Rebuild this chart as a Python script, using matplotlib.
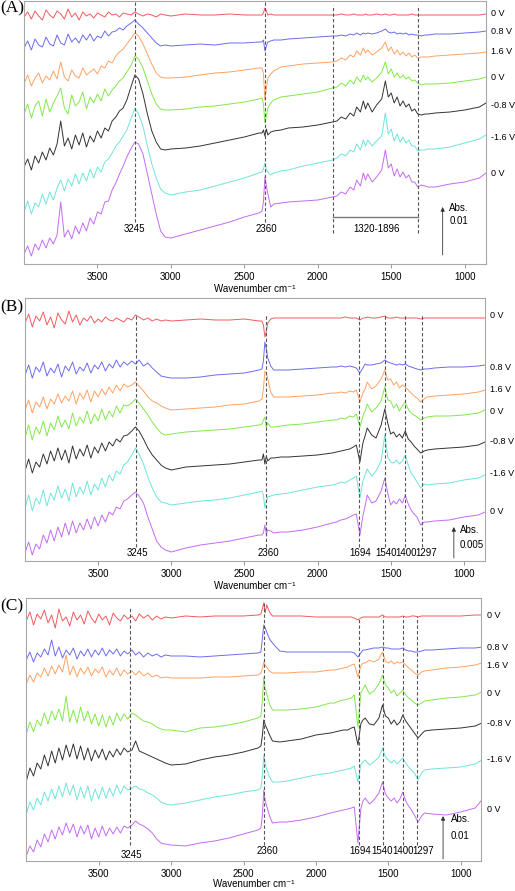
import matplotlib.pyplot as plt

plt.rcParams['font.family'] = ['Liberation Sans', 'DejaVu Sans']

# wavenumber grid (cm-1) shared by every spectrum
wn = [4000, 3975, 3950, 3925, 3900, 3875, 3850, 3825, 3800, 3775, 3750, 3725, 3700, 3675, 3650,
      3625, 3600, 3575, 3550, 3525, 3500, 3475, 3450, 3425, 3400, 3375, 3350, 3325, 3300,
      3270, 3245, 3220, 3190, 3160, 3130, 3100, 3070, 3040,
      3000, 2900, 2800, 2700, 2600, 2500, 2400,
      2380, 2370, 2360, 2350, 2340, 2320, 2300,
      2250, 2200, 2100, 2000, 1900,
      1870, 1840, 1810, 1780, 1755, 1735, 1710, 1690, 1675, 1660, 1630, 1600, 1565, 1540,
      1520, 1500, 1480, 1460, 1440, 1420, 1400, 1380, 1360, 1340, 1320, 1295, 1270,
      1250, 1200, 1100, 1000, 900, 855]

voltages = ["0 V", "0.8 V", "1.6 V", "0 V", "-0.8 V", "-1.6 V", "0 V"]
colors = ["#f25a5e", "#6b6cf0", "#ffa263", "#82e84c", "#333333", "#70e4da", "#c46cf2"]

# ---- panel A (offset absorbance, a.u.) ----
a_red = [247, 252, 245, 253, 248, 244, 254, 249, 246, 253, 250, 245, 255, 247, 251, 244, 252, 248, 250, 246,
         251, 249, 247, 252, 249, 250, 247, 251, 250,
         249, 252, 250, 248, 250, 249, 247, 250, 249,
         248, 250, 249, 249, 250, 249, 249,
         249, 251, 256, 253, 249, 250, 249,
         249, 249, 249, 249, 249,
         249, 250, 249, 249, 250, 249, 249, 249, 250, 249, 249, 250, 249, 250, 249, 249, 250, 249,
         249, 249, 249, 249, 250, 249, 249, 249, 249,
         249, 249, 249, 249, 249, 250]
a_blue = [216, 223, 214, 225, 219, 217, 227, 220, 218, 229, 221, 219, 230, 222, 226, 221, 229, 224, 230, 223,
          228, 226, 233, 228, 232, 233, 236, 234, 238,
          241, 244, 240, 236, 231, 226, 221, 218, 219,
          218, 219, 220, 219, 221, 221, 222,
          222, 224, 213, 218, 222, 223, 224,
          224, 225, 226, 227, 228,
          228, 229, 228, 230, 229, 231, 229, 231, 230, 231, 230, 231, 233, 235, 232, 231, 232, 230,
          231, 230, 231, 229, 230, 229, 229, 228, 229,
          229, 230, 230, 231, 232, 233]
a_orange = [180, 189, 178, 186, 191, 181, 188, 184, 193, 185, 202, 187, 183, 194, 188, 186, 196, 189, 192, 195,
            190, 198, 196, 203, 201, 208, 212, 215, 220,
            226, 231, 228, 220, 210, 200, 191, 187, 186,
            186, 187, 189, 191, 192, 194, 196,
            196, 190, 164, 176, 186, 190, 193,
            197, 198, 200, 201, 202,
            203, 206, 204, 209, 207, 213, 209, 216, 211, 214, 209, 212, 216, 222, 213, 217, 210, 214,
            209, 212, 208, 211, 207, 209, 206, 207, 207,
            207, 208, 209, 210, 211, 212]
a_green = [150, 160, 146, 158, 163, 148, 165, 152, 161, 168, 176, 156, 150, 169, 158, 162, 172, 155, 167, 161,
           170, 163, 175, 168, 174, 178, 183, 186, 192,
           199, 208, 205, 196, 183, 170, 160, 155, 154,
           154, 155, 157, 158, 160, 162, 165,
           166, 160, 141, 148, 156, 161, 164,
           167, 168, 170, 172, 176,
           177, 181, 178, 184, 180, 187, 182, 189, 184, 187, 182, 186, 192, 202, 190, 195, 187, 191,
           186, 189, 185, 187, 183, 184, 181, 179, 180,
           180, 180, 181, 183, 185, 187]
a_black = [97, 105, 94, 108, 101, 112, 104, 116, 109, 120, 143, 118, 126, 115, 129, 119, 131, 117, 128, 122,
           133, 126, 136, 133, 143, 147, 153, 156, 164,
           178, 189, 185, 170, 150, 133, 122, 115, 114,
           115, 116, 118, 121, 124, 127, 131,
           131, 134, 128, 135, 129, 132, 133,
           134, 136, 137, 139, 142,
           143, 147, 145, 151, 148, 157, 152, 163, 155, 161, 152, 159, 165, 183, 167, 171, 161, 167,
           158, 163, 157, 160, 153, 155, 150, 149, 150,
           150, 151, 152, 154, 157, 161]
a_cyan = [52, 63, 50, 61, 57, 70, 60, 72, 64, 76, 84, 73, 85, 78, 90, 80, 91, 83, 95, 86,
          97, 92, 102, 105, 111, 118, 122, 128, 134,
          146, 156, 150, 138, 118, 100, 86, 75, 71,
          69, 72, 74, 78, 82, 86, 91,
          92, 95, 101, 95, 92, 89, 91,
          93, 94, 98, 101, 104,
          106, 110, 108, 114, 112, 120, 114, 124, 118, 124, 118, 123, 128, 151, 130, 135, 123, 130,
          122, 127, 121, 124, 118, 118, 113, 114, 114,
          115, 115, 117, 121, 125, 129]
a_purple = [10, 18, 8, 20, 14, 24, 16, 26, 20, 29, 62, 27, 34, 25, 38, 30, 41, 33, 46, 40,
            52, 50, 62, 63, 74, 81, 90, 98, 107,
            116, 122, 120, 110, 90, 70, 50, 33, 27,
            26, 30, 34, 38, 42, 47, 51,
            53, 62, 87, 78, 70, 57, 60,
            61, 62, 63, 64, 67,
            68, 72, 70, 77, 74, 84, 78, 91, 84, 90, 82, 87, 94, 114, 96, 100, 88, 95,
            87, 92, 86, 89, 82, 82, 77, 79, 78,
            77, 77, 80, 82, 86, 91]

# ---- panel B ----
b_red = [238, 247, 234, 245, 240, 249, 236, 244, 233, 248, 241, 237, 250, 239, 246, 236, 243, 240, 245, 238,
         242, 239, 244, 241, 240, 243, 241, 239, 243,
         241, 246, 244, 241, 243, 240, 242, 240, 241,
         240, 241, 242, 241, 241, 242, 240,
         240, 236, 224, 230, 238, 242, 243,
         243, 243, 243, 243, 243,
         243, 243, 244, 243, 243, 243, 241, 243, 243, 244, 243, 243, 244, 245, 243, 243, 243, 244,
         243, 243, 243, 243, 243, 243, 243, 242, 243,
         243, 243, 243, 243, 243, 243]
b_blue = [186, 196, 183, 194, 189, 199, 185, 193, 188, 197, 184, 195, 190, 199, 187, 194, 190, 198, 188, 196,
          192, 199, 190, 197, 193, 201, 194, 199, 196,
          200, 197, 201, 195, 198, 193, 189, 185, 184,
          183, 183, 184, 186, 187, 188, 191,
          192, 200, 219, 212, 203, 195, 191,
          191, 191, 192, 193, 194,
          194, 195, 194, 195, 194, 193, 188, 193, 197, 196, 196, 197, 198, 201, 199, 198, 197, 196,
          197, 196, 197, 195, 194, 193, 192, 191, 192,
          192, 193, 194, 194, 195, 196]
b_orange = [151, 161, 148, 159, 154, 164, 152, 162, 157, 167, 158, 165, 160, 170, 157, 168, 162, 171, 159, 170,
            164, 172, 166, 174, 168, 176, 170, 177, 174,
            176, 179, 175, 170, 164, 160, 158, 155, 153,
            151, 152, 153, 154, 156, 157, 160,
            162, 172, 190, 188, 182, 169, 164,
            164, 164, 165, 166, 168,
            168, 169, 168, 170, 169, 171, 159, 168, 172, 179, 172, 175, 182, 191, 181, 182, 176, 179,
            173, 176, 174, 171, 168, 165, 163, 159, 162,
            164, 165, 166, 167, 169, 171]
b_green = [123, 136, 121, 134, 127, 140, 125, 138, 131, 145, 134, 141, 132, 148, 135, 144, 138, 150, 137, 147,
           140, 152, 141, 150, 144, 155, 148, 156, 155,
           158, 162, 158, 152, 146, 139, 133, 128, 126,
           127, 129, 130, 131, 132, 134, 136,
           137, 141, 144, 133, 138, 134, 134,
           135, 136, 137, 139, 141,
           141, 143, 142, 145, 144, 147, 134, 145, 150, 157, 149, 153, 160, 174, 161, 160, 153, 157,
           150, 155, 159, 152, 148, 146, 144, 141, 143,
           144, 145, 145, 146, 148, 151]
b_black = [90, 102, 88, 99, 94, 107, 97, 110, 100, 113, 101, 111, 98, 115, 102, 112, 105, 116, 103, 114,
           108, 118, 110, 119, 115, 122, 119, 125, 126,
           130, 134, 130, 122, 113, 106, 101, 96, 93,
           91, 94, 95, 96, 97, 99, 101,
           101, 107, 97, 105, 100, 103, 103,
           104, 104, 105, 106, 108,
           109, 110, 111, 112, 114, 116, 99, 118, 125, 133, 126, 123, 136, 152, 138, 127, 129, 124,
           127, 123, 130, 122, 119, 115, 112, 108, 110,
           111, 112, 113, 114, 116, 119]
b_cyan = [53, 66, 50, 63, 57, 71, 55, 68, 61, 75, 63, 72, 60, 78, 64, 74, 67, 80, 66, 77,
          71, 83, 74, 86, 80, 90, 87, 96, 99,
          106, 113, 107, 97, 84, 73, 64, 59, 58,
          56, 58, 60, 61, 63, 66, 69,
          70, 66, 53, 60, 64, 65, 66,
          67, 68, 71, 74, 76,
          77, 79, 78, 81, 83, 85, 63, 80, 86, 92, 85, 90, 100, 126, 104, 99, 98, 101,
          97, 100, 106, 96, 88, 84, 79, 73, 77,
          76, 77, 78, 81, 83, 86]
b_purple = [8, 19, 6, 17, 12, 26, 18, 31, 20, 34, 24, 38, 26, 40, 28, 38, 31, 42, 32, 44,
            35, 46, 39, 49, 46, 54, 52, 60, 62,
            66, 69, 65, 58, 44, 32, 20, 14, 11,
            9, 13, 16, 18, 20, 23, 26,
            26, 28, 36, 27, 31, 30, 28,
            29, 29, 31, 34, 38,
            39, 41, 42, 44, 46, 47, 26, 45, 55, 66, 58, 60, 70, 83, 68, 56, 60, 57,
            62, 58, 66, 57, 51, 47, 44, 36, 39,
            39, 40, 41, 44, 46, 49]

# ---- panel C ----
c_red = [240, 249, 236, 247, 242, 251, 238, 246, 233, 252, 240, 244, 235, 249, 241, 246, 237, 250, 243, 238,
         247, 241, 245, 236, 248, 243, 240, 246, 242,
         245, 240, 247, 243, 246, 241, 245, 242, 244,
         243, 245, 244, 245, 245, 245, 246,
         247, 252, 258, 248, 256, 249, 245,
         245, 245, 245, 244, 244,
         244, 244, 244, 244, 244, 243, 241, 243, 244, 244, 244, 244, 244, 246, 244, 244, 244, 244,
         244, 244, 245, 244, 244, 245, 245, 244, 245,
         245, 245, 245, 245, 246, 246]
c_blue = [201, 209, 199, 208, 204, 212, 206, 221, 205, 214, 203, 211, 206, 213, 202, 210, 205, 212, 204, 211,
          206, 213, 205, 211, 207, 212, 205, 210, 207,
          211, 206, 209, 204, 208, 205, 207, 204, 206,
          205, 205, 204, 205, 206, 207, 208,
          209, 222, 236, 233, 229, 222, 218,
          210, 209, 209, 209, 209,
          209, 209, 209, 209, 209, 208, 204, 208, 211, 211, 212, 213, 213, 214, 213, 213, 212, 212,
          212, 212, 213, 211, 210, 210, 209, 209, 210,
          211, 211, 212, 213, 213, 214]
c_orange = [177, 186, 179, 188, 184, 193, 185, 195, 187, 196, 189, 206, 186, 195, 184, 193, 187, 194, 185, 192,
            188, 194, 184, 191, 186, 193, 185, 191, 187,
            190, 186, 190, 185, 188, 184, 186, 183, 184,
            183, 183, 183, 184, 184, 185, 186,
            188, 192, 199, 196, 194, 190, 188,
            188, 188, 189, 189, 191,
            191, 192, 193, 194, 196, 197, 184, 195, 198, 198, 201, 199, 202, 209, 200, 198, 200, 197,
            199, 198, 199, 196, 193, 191, 188, 186, 189,
            190, 191, 193, 194, 196, 198]
c_green = [127, 139, 129, 141, 135, 148, 137, 150, 141, 152, 140, 165, 139, 151, 138, 154, 140, 150, 137, 147,
           135, 146, 134, 145, 136, 148, 140, 147, 142,
           148, 146, 143, 140, 139, 137, 134, 132, 131,
           131, 129, 133, 134, 136, 139, 143,
           145, 160, 184, 172, 167, 157, 151,
           151, 151, 152, 154, 158,
           158, 160, 161, 162, 163, 166, 134, 168, 172, 176, 167, 170, 177, 186, 176, 173, 168, 171,
           165, 168, 171, 166, 163, 161, 158, 156, 158,
           160, 161, 163, 164, 166, 169]
c_black = [80, 93, 85, 98, 92, 106, 95, 110, 98, 113, 101, 116, 104, 117, 102, 115, 101, 113, 100, 111,
           103, 112, 101, 110, 104, 112, 106, 113, 109,
           111, 120, 110, 108, 106, 104, 102, 100, 98,
           96, 97, 101, 104, 106, 109, 113,
           115, 125, 141, 136, 133, 126, 120,
           119, 120, 122, 126, 128,
           129, 130, 131, 131, 133, 134, 116, 137, 141, 143, 137, 136, 143, 156, 145, 143, 137, 141,
           136, 139, 146, 140, 136, 132, 128, 123, 127,
           130, 131, 132, 133, 135, 138]
c_cyan = [47, 59, 51, 63, 56, 69, 60, 72, 62, 75, 64, 78, 66, 76, 61, 74, 63, 75, 60, 72,
          62, 74, 63, 73, 65, 76, 67, 75, 71,
          73, 75, 72, 71, 68, 66, 63, 59, 57,
          56, 58, 61, 64, 66, 69, 71,
          73, 85, 106, 97, 92, 84, 79,
          79, 80, 83, 86, 88,
          89, 90, 91, 92, 93, 95, 79, 96, 99, 101, 96, 99, 104, 113, 104, 101, 98, 101,
          97, 100, 103, 98, 94, 91, 88, 81, 88,
          91, 92, 93, 94, 97, 101]
c_purple = [5, 15, 9, 21, 14, 27, 19, 31, 22, 34, 26, 38, 28, 37, 24, 35, 27, 36, 22, 33,
            24, 35, 25, 33, 27, 34, 28, 35, 33,
            36, 40, 37, 35, 32, 28, 22, 18, 17,
            16, 15, 18, 20, 23, 27, 31,
            33, 45, 71, 60, 55, 45, 38,
            39, 39, 41, 44, 48,
            49, 50, 51, 52, 53, 54, 18, 52, 60, 63, 57, 61, 68, 79, 67, 63, 60, 63,
            58, 62, 69, 60, 55, 51, 46, 39, 45,
            48, 47, 46, 49, 53, 61]

# band markers: where the dashed line sits in each panel and the label printed under it
b_lines = [3244, 2353, 1718, 1538, 1402, 1286]
c_lines = [3286, 2356, 1700, 1539, 1401, 1304]
band_labels = ["3245", "2360", "1694", "1540", "1400", "1297"]

W, H = 515, 891
fig = plt.figure(figsize=(W / 100, H / 100), dpi=100)


def px_axes(left, top, right, bottom):
    return fig.add_axes([left / W, 1 - bottom / H, (right - left) / W, (bottom - top) / H])


def style(ax, xlim, labelpad):
    ax.set_xlim(*xlim)
    ax.set_ylim(0, 263)
    ax.set_yticks([])
    ax.set_xticks([3500, 3000, 2500, 2000, 1500, 1000])
    ax.tick_params(axis='x', direction='out', length=3, width=0.6, color='#888888',
                   labelsize=7, pad=2.5)
    for s in ax.spines.values():
        s.set_color('#a8a8a8')
        s.set_linewidth(0.8)
    ax.set_xlabel('Wavenumber cm\u207b\u00b9', fontsize=7, labelpad=labelpad)


def draw_traces(ax, traces, label_y, label_x):
    for y, c in zip(traces, colors):
        ax.plot(wn, y, color=c, lw=0.7)
    for v, ly in zip(voltages, label_y):
        ax.text(label_x, ly, v, fontsize=6.5, va='center', ha='left',
                transform=ax.get_yaxis_transform())


def dashed(ax, x, y0, y1):
    ax.plot([x, x], [y0, y1], color='#555555', lw=0.8, ls=(0, (3, 2)))


def scale_bar(ax, x, y0, y1, xt, yabs, yval, val):
    ax.annotate('', xy=(x, y1), xytext=(x, y0),
                arrowprops=dict(arrowstyle='-|>', lw=0.6, color='#333333', mutation_scale=6,
                                shrinkA=0, shrinkB=0))
    ax.text(xt, yabs, 'Abs.', fontsize=7, va='center', ha='left')
    ax.text(xt, yval, val, fontsize=7, va='center', ha='left')


# (A)
axA = px_axes(24, 1, 486, 264)
style(axA, (4000, 855), 1.5)
draw_traces(axA, [a_red, a_blue, a_orange, a_green, a_black, a_cyan, a_purple],
            [250, 233, 212, 187, 159, 126, 91], 1.01)
for x in [3245, 2360]:
    dashed(axA, x, 42, 263)
for x in [1896, 1320]:
    dashed(axA, x, 31, 259)
axA.plot([1896, 1320], [47, 47], color='#777777', lw=1)
axA.text(3248, 35, '3245', fontsize=7, ha='center', va='center')
axA.text(2349, 35, '2360', fontsize=7, ha='center', va='center')
axA.text(1597, 35, '1320-1896', fontsize=7, ha='center', va='center')
scale_bar(axA, 1150, 9, 57, 1104, 56, 43, '0.01')

# (B)
axB = px_axes(25, 298, 485, 561)
style(axB, (4000, 855), 1.5)
draw_traces(axB, [b_red, b_blue, b_orange, b_green, b_black, b_cyan, b_purple],
            [245, 193, 171, 149, 120, 87, 50], 1.011)
for x in b_lines:
    dashed(axB, x, 14, 247)
for x, lab in zip([3234, 2338, 1708, 1531, 1395, 1255], band_labels):
    axB.text(x, 8, lab, fontsize=7, ha='center', va='center')
scale_bar(axB, 1068, 3, 34, 1027, 31, 16, '0.005')

# (C)
axC = px_axes(26, 598, 481, 861)
style(axC, (4002, 860), 0)
draw_traces(axC, [c_red, c_blue, c_orange, c_green, c_black, c_cyan, c_purple],
            [246, 214, 196, 167, 138, 101, 52], 1.014)
for x, top in zip(c_lines, [254, 258, 243, 245, 245, 245]):
    dashed(axC, x, 16, top)
for x, ly, lab in zip([3277, 2336, 1696, 1546, 1397, 1258], [6, 10, 10, 10, 10, 10], band_labels):
    axC.text(x, ly, lab, fontsize=7, ha='center', va='center')
scale_bar(axC, 1122, 2, 45, 1069, 42, 25, '0.01')

for lab, y in [('(A)', 8), ('(B)', 307), ('(C)', 606)]:
    fig.text(0.0, 1 - y / H, lab, family='Liberation Serif', fontsize=12.5, ha='left', va='center')

fig.savefig('out.png', dpi=100)
